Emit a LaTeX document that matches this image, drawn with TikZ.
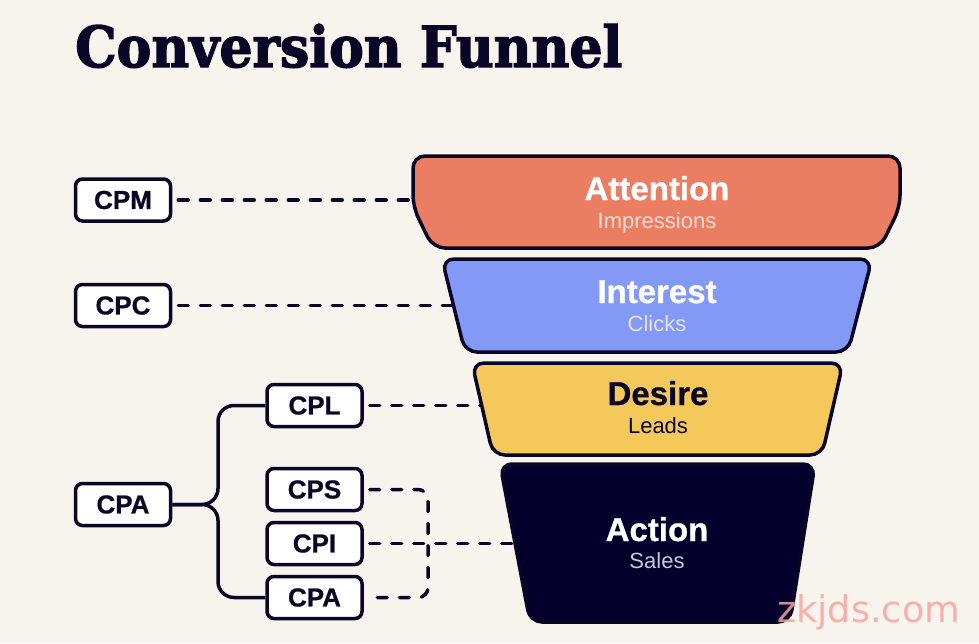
\documentclass[tikz,border=0pt]{standalone}
\usepackage{fontspec}
\usepackage{graphicx}
\setmainfont[BoldFeatures={FakeBold=0.8}]{Liberation Sans}
\newfontfamily\titlefont[BoldFeatures={FakeBold=2.5}]{DejaVu Serif}
\newfontfamily\wmfont{DejaVu Sans}
\definecolor{bg}{HTML}{F7F4EE}
\definecolor{ink}{HTML}{0A0626}
\definecolor{attc}{HTML}{EB7D62}
\definecolor{intc}{HTML}{8499F6}
\definecolor{desc}{HTML}{F5C85B}
\definecolor{actc}{HTML}{05002B}
\definecolor{atts}{HTML}{FCDCD2}
\definecolor{ints}{HTML}{E0E5FD}
\definecolor{acts}{HTML}{C9C7D8}
\definecolor{wm}{HTML}{F9A3A0}
\tikzset{
  lbl/.style={draw=ink, line width=3.5pt, fill=white, rounded corners=7pt,
    minimum width=95pt, minimum height=42pt, inner sep=0pt,
    font=\fontsize{26}{28}\selectfont\bfseries, text=ink},
  funnelbox/.style={draw=ink, line width=3.5pt, rounded corners=12pt},
  big/.style={anchor=base, inner sep=0pt, font=\fontsize{33}{36}\selectfont\bfseries},
  small/.style={anchor=base, inner sep=0pt, font=\fontsize{22}{24}\selectfont},
  dashline/.style={draw=ink, line width=3.5pt, line cap=round, dash pattern=on 10pt off 12pt},
  solidline/.style={draw=ink, line width=3.5pt, rounded corners=16pt}
}
\begin{document}
\begin{tikzpicture}[x=1pt,y=-1pt]
\fill[bg] (0,0) rectangle (979,643);
\useasboundingbox (0,0) rectangle (979,643);

% title
\node[anchor=south west, inner sep=0pt, text=ink] (title) at (75,68)
  {\resizebox{547pt}{43pt}{\titlefont\bfseries Conversion Funnel}};

% label boxes
\node[lbl] (cpm) at (123,200) {CPM};
\node[lbl] (cpc) at (123,305.5) {CPC};
\node[lbl] (cpa) at (123,504.5) {CPA};
\node[lbl] (cpl) at (314.5,405.5) {CPL};
\node[lbl] (cps) at (314.5,489.5) {CPS};
\node[lbl] (cpi) at (314.5,543.5) {CPI};
\node[lbl] (cpa2) at (314.5,597.5) {CPA};

% connector end points on the funnel
\coordinate (attl) at (414,200);
\coordinate (intl) at (453,305.5);
\coordinate (desl) at (482,405.5);
\coordinate (actl) at (515,543.5);
\coordinate (fork) at (218,504.5);
\coordinate (brk) at (428,543.5);

% dashed connectors
\draw[dashline] ([xshift=6pt]cpm.east) -- (attl);
\draw[dashline] ([xshift=6pt]cpc.east) -- (intl);
\draw[dashline] ([xshift=6pt]cpl.east) -- (desl);
\draw[dashline, rounded corners=10pt] ([xshift=6pt]cps.east) -| (brk) |- ([xshift=6pt]cpa2.east);
\draw[dashline] ([xshift=6pt]cpi.east) -- (actl);

% solid fork
\draw[solidline] (cpa.east) -- (fork) |- (cpl.west);
\draw[solidline] (cpa.east) -- (fork) |- (cpa2.west);

% funnel
\draw[funnelbox, fill=attc] (413,156) -- (900,156) -- (900,207) -- (880,248) -- (433,248) -- (413,207) -- cycle;
\draw[funnelbox, fill=intc] (442,259) -- (872,259) -- (848,352) -- (465,352) -- cycle;
\draw[funnelbox, fill=desc] (472,363) -- (843,363) -- (822,455) -- (493,455) -- cycle;
\draw[funnelbox, fill=actc] (500,464) -- (815,464) -- (790,622) -- (530,622) -- cycle;

% funnel texts
\node[big, text=white] (att) at (657,200) {Attention};
\node[small, text=atts] (atts) at (657,228) {Impressions};
\node[big, text=white] (int) at (657,303) {Interest};
\node[small, text=ints] (ints) at (657,331) {Clicks};
\node[big, text=ink] (des) at (658,405) {Desire};
\node[small, text=ink] (dess) at (658,433) {Leads};
\node[big, text=white] (act) at (657,541) {Action};
\node[small, text=acts] (acts) at (657,568) {Sales};

% watermark
\node[anchor=base west, inner sep=0pt, text=wm, opacity=0.85] (wmk) at (777,622)
  {\resizebox{183pt}{!}{\wmfont zkjds.com}};
\end{tikzpicture}
\end{document}
